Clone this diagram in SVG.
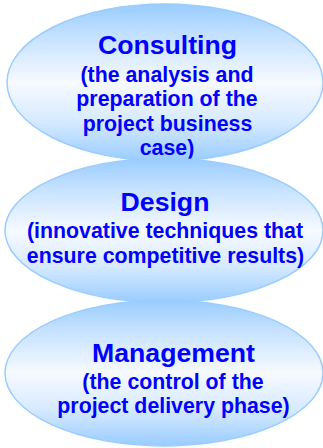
<svg xmlns="http://www.w3.org/2000/svg" width="323" height="448" viewBox="0 0 323 448">
<defs>
<linearGradient id="g" x1="0" y1="0" x2="0" y2="1">
<stop offset="0" stop-color="#99CCFF"/>
<stop offset="0.2" stop-color="#C4E1FF"/>
<stop offset="0.5" stop-color="#F7FAFF"/>
<stop offset="0.75" stop-color="#D6EAFF"/>
<stop offset="1" stop-color="#99CCFF"/>
</linearGradient>
<style>
.e{fill:url(#g);stroke:#99CCFF;stroke-width:1.5}
.t{font-family:"Liberation Sans",Arial,sans-serif;font-weight:bold;fill:#0000FF;text-anchor:middle}
.h{font-size:26.67px}
.s{font-size:21.33px}
</style>
</defs>
<rect width="323" height="448" fill="#FFFFFF"/>
<g id="connectors"></g>
<g id="consulting">
<ellipse class="e" cx="165" cy="82.5" rx="158" ry="78.5"/>
<text class="t h" x="167.5" y="54.3">Consulting</text>
<text class="t s" x="167" y="81.5">(the analysis and</text>
<text class="t s" x="167" y="106">preparation of the</text>
<text class="t s" x="167.5" y="130.5">project business</text>
<text class="t s" x="167" y="155">case)</text>
</g>
<g id="design">
<ellipse class="e" cx="164" cy="230.5" rx="159" ry="72"/>
<text class="t h" x="165" y="211">Design</text>
<text class="t s" x="165" y="238">(innovative techniques that</text>
<text class="t s" x="165.5" y="263">ensure competitive results)</text>
</g>
<g id="management">
<ellipse class="e" cx="164" cy="373" rx="159" ry="73"/>
<text class="t h" x="173.5" y="362">Management</text>
<text class="t s" x="173" y="388.5">(the control of the</text>
<text class="t s" x="173.5" y="413">project delivery phase)</text>
</g>
</svg>
